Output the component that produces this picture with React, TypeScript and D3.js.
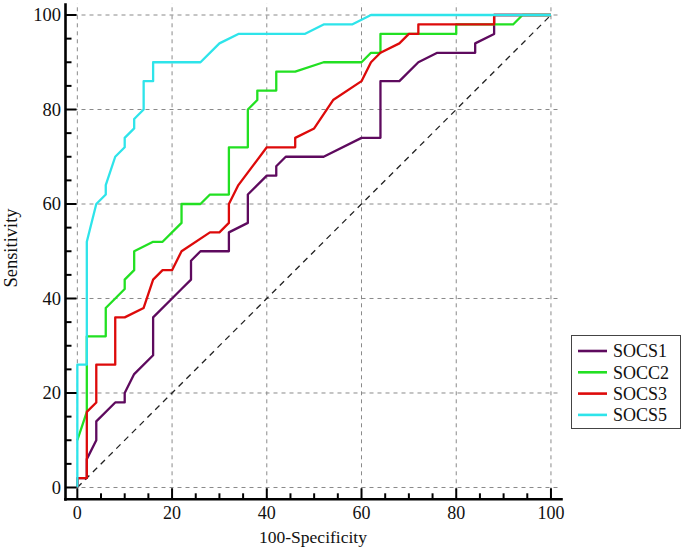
import React from "react";
import * as d3 from "d3";

const X_TICKS = [0, 20, 40, 60, 80, 100];
const Y_TICKS = [0, 20, 40, 60, 80, 100];
const MINOR_TICKS = d3.range(0, 101, 5);

const SERIES_NAMES = ["SOCS1", "SOCC2", "SOCS3", "SOCS5"];
const SERIES_COLORS = ["#5e0a5e", "#22e022", "#dd0a0a", "#2ee4ea"];

const SOCS1_POINTS: [number, number][] = [
  [0, 0], [0, 2], [2, 2], [2, 6], [4, 10], [4, 14], [8, 18], [10, 18], [10, 20], [12, 24],
  [16, 28], [16, 36], [20, 40], [22, 42], [24, 44], [24, 48], [26, 50], [32, 50], [32, 54],
  [36, 56], [36, 62], [40, 66], [42, 66], [42, 68], [44, 70], [52, 70], [60, 74], [64, 74],
  [64, 86], [68, 86], [72, 90], [76, 92], [84, 92], [84, 94], [88, 96], [88, 100], [100, 100],
];
const SOCC2_POINTS: [number, number][] = [
  [0, 10], [2, 16], [2, 32], [6, 32], [6, 38], [10, 42], [10, 44], [12, 46], [12, 50],
  [16, 52], [18, 52], [22, 56], [22, 60], [26, 60], [28, 62], [32, 62], [32, 72], [36, 72],
  [36, 80], [38, 82], [38, 84], [42, 84], [42, 88], [46, 88], [52, 90], [60, 90], [62, 92],
  [64, 92], [64, 96], [80, 96], [80, 98], [92, 98], [94, 100], [100, 100],
];
const SOCS3_POINTS: [number, number][] = [
  [0, 0], [0, 2], [2, 2], [2, 16], [4, 18], [4, 26], [8, 26], [8, 36], [10, 36], [14, 38],
  [16, 44], [18, 46], [20, 46], [22, 50], [28, 54], [30, 54], [32, 56], [32, 60], [34, 64],
  [40, 72], [46, 72], [46, 74], [50, 76], [54, 82], [60, 86], [62, 90], [64, 92], [68, 94],
  [70, 96], [72, 96], [72, 98], [88, 98], [88, 100], [100, 100],
];
const SOCS5_POINTS: [number, number][] = [
  [0, 0], [0, 26], [2, 26], [2, 52], [4, 60], [6, 62], [6, 64], [8, 70], [10, 72], [10, 74],
  [12, 76], [12, 78], [14, 80], [14, 86], [16, 86], [16, 90], [26, 90], [30, 94], [34, 96],
  [48, 96], [52, 98], [58, 98], [62, 100], [100, 100],
];
const SERIES_POINTS = [SOCS1_POINTS, SOCC2_POINTS, SOCS3_POINTS, SOCS5_POINTS];

const FONT = "'Liberation Serif', 'Times New Roman', serif";

export default function App() {
  const x = d3.scaleLinear().domain([-2.5, 102.5]).range([65.5, 562.8]);
  const y = d3.scaleLinear().domain([-2.5, 102.5]).range([499.3, 3.2]);
  const line = d3
    .line<[number, number]>()
    .x((d) => x(d[0]))
    .y((d) => y(d[1]));

  const axisX = x(-2.5);
  const axisY = y(-2.5);

  return (
    <svg
      width={685}
      height={550}
      style={{ position: "absolute", left: 0, top: 0, background: "#fff" }}
      fontFamily={FONT}
    >
      {/* grid */}
      {X_TICKS.map((t) => (
        <line
          key={"gx" + t}
          x1={x(t)}
          x2={x(t)}
          y1={y(-2.5)}
          y2={y(102.5)}
          stroke="#8a8a8a"
          strokeWidth={1}
          strokeDasharray="4,4"
        />
      ))}
      {Y_TICKS.map((t) => (
        <line
          key={"gy" + t}
          x1={x(-2.5)}
          x2={x(101.5)}
          y1={y(t)}
          y2={y(t)}
          stroke="#8a8a8a"
          strokeWidth={1}
          strokeDasharray="4,4"
        />
      ))}
      {/* diagonal */}
      <line
        x1={x(0)}
        y1={y(0)}
        x2={x(100)}
        y2={y(100)}
        stroke="#222"
        strokeWidth={1.3}
        strokeDasharray="6,5"
      />
      {/* curves */}
      {SERIES_POINTS.map((pts, i) => (
        <path
          key={SERIES_NAMES[i]}
          d={line(pts) || ""}
          fill="none"
          stroke={SERIES_COLORS[i]}
          strokeWidth={2.3}
          strokeLinejoin="round"
        />
      ))}
      {/* axes */}
      <line x1={axisX} x2={axisX} y1={y(102.5)} y2={axisY + 1.5} stroke="#000" strokeWidth={2.6} />
      <line x1={axisX - 1.3} x2={x(102.5)} y1={axisY} y2={axisY} stroke="#000" strokeWidth={2.6} />
      {MINOR_TICKS.map((t) => {
        const major = t % 20 === 0;
        const len = major ? 11 : 6;
        return (
          <g key={"t" + t}>
            <line x1={axisX} x2={axisX + len} y1={y(t)} y2={y(t)} stroke="#000" strokeWidth={2} />
            <line x1={x(t)} x2={x(t)} y1={axisY} y2={axisY - len} stroke="#000" strokeWidth={2} />
          </g>
        );
      })}
      {Y_TICKS.map((t) => (
        <text key={"yl" + t} x={61} y={y(t)} dy="0.35em" textAnchor="end" fontSize={18.5} fill="#111">
          {t}
        </text>
      ))}
      {X_TICKS.map((t) => (
        <text key={"xl" + t} x={x(t)} y={519} textAnchor="middle" fontSize={18} fill="#111">
          {t}
        </text>
      ))}
      <text x={313} y={543} textAnchor="middle" fontSize={17.5} fill="#111">
        100-Specificity
      </text>
      <text
        transform={`translate(17, 248) rotate(-90)`}
        textAnchor="middle"
        fontSize={18.5}
        fill="#111"
      >
        Sensitivity
      </text>
      {/* legend */}
      <rect x={571.5} y={335.5} width={109} height={93} fill="#fff" stroke="#444" strokeWidth={1} />
      {SERIES_NAMES.map((name, i) => {
        const cy = 351 + i * 21.3;
        return (
          <g key={"lg" + name}>
            <line x1={578} x2={607} y1={cy} y2={cy} stroke={SERIES_COLORS[i]} strokeWidth={2.6} />
            <text x={613} y={cy} dy="0.35em" fontSize={18} fill="#111">
              {name}
            </text>
          </g>
        );
      })}
    </svg>
  );
}
